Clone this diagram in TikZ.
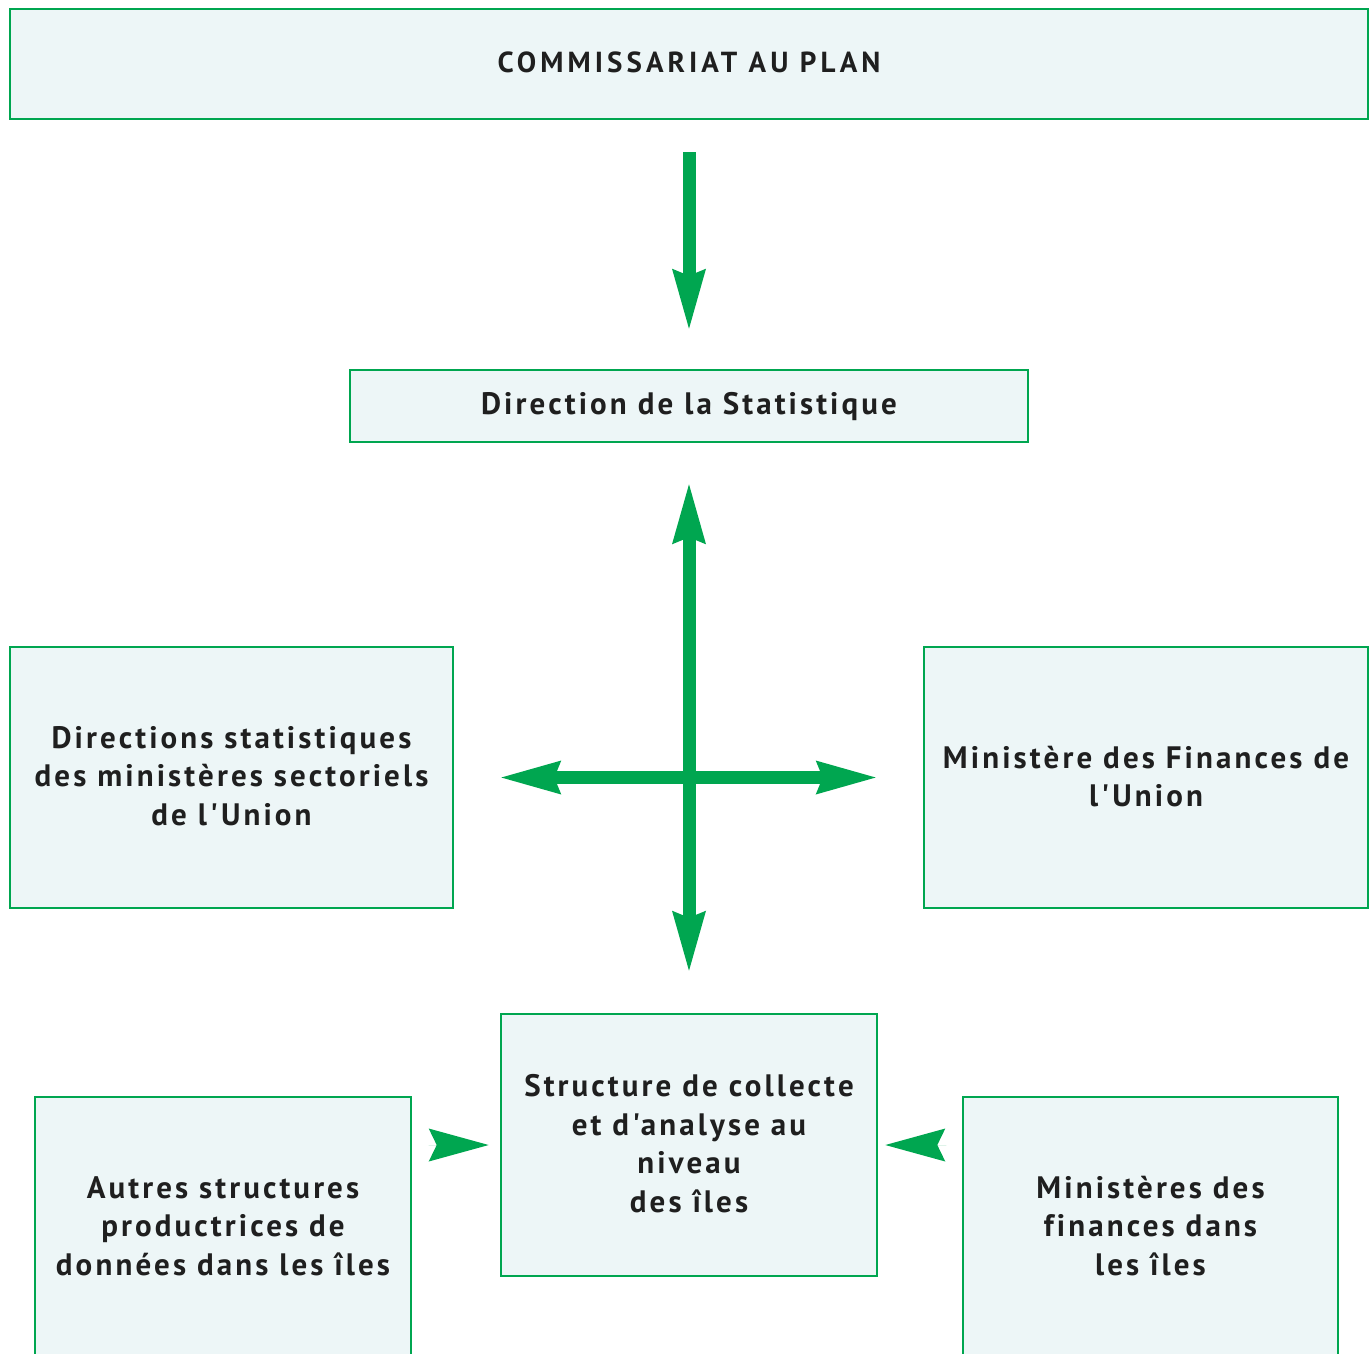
\documentclass[tikz,border=0pt]{standalone}
\usepackage{fontspec}
\setmainfont{PT Sans}[LetterSpace=10, Ligatures={TeXOff,CommonOff}]
\newfontfamily\topfont{PT Sans}[LetterSpace=14, Ligatures={TeXOff,CommonOff}]
\usetikzlibrary{arrows.meta}
\definecolor{gr}{HTML}{00A650}
\definecolor{bx}{HTML}{EDF6F7}
\tikzset{
  box/.style={draw=gr, line width=2.6pt, fill=bx, inner sep=0pt},
  lbl/.style={font=\fontsize{31}{38.5}\selectfont\bfseries, text=black!88, align=center},
  toplbl/.style={font=\topfont\fontsize{29}{38.5}\selectfont\bfseries, text=black!88, align=center},
  conn/.style={draw=gr, line width=13pt, -{Stealth[length=60pt,width=34pt,inset=7pt,line width=0pt]}},
  conn2/.style={draw=gr, line width=13pt, {Stealth[length=60pt,width=34pt,inset=7pt,line width=0pt]}-{Stealth[length=60pt,width=34pt,inset=7pt,line width=0pt]}},
  headonly/.style={draw=gr, line width=0.01pt, -{Stealth[length=60pt,width=33pt,inset=8pt,line width=0pt]}}
}
\begin{document}
\begin{tikzpicture}[x=1pt,y=-1pt]
\clip (0,0) rectangle (1370,1353);
\fill[white] (0,0) rectangle (1370,1353);
\node[box, minimum width=1358pt, minimum height=110pt] (top) at (689,64) {};
\node[toplbl] (topt) at (689,62) {COMMISSARIAT AU PLAN};
\node[box, minimum width=678pt, minimum height=72pt] (dir) at (689,406) {};
\node[lbl] (dirt) at (689,406.5) {Direction de la Statistique};
\node[box, minimum width=443pt, minimum height=261pt] (lft) at (231.5,777.5) {};
\node[lbl] (lftt) at (231.5,776) {Directions statistiques\\des ministères sectoriels\\de l'Union};
\node[box, minimum width=444pt, minimum height=261pt] (rgt) at (1146,777.5) {};
\node[lbl] (rgtt) at (1146,776.5) {Ministère des Finances de\\l'Union};
\node[box, minimum width=376pt, minimum height=262pt] (ctr) at (689,1145) {};
\node[lbl] (ctrt) at (689,1143.5) {Structure de collecte\\et d'analyse au\\niveau\\des îles};
\node[box, minimum width=376pt, minimum height=300pt] (bl) at (223,1247) {};
\node[lbl] (blt) at (223,1226) {Autres structures\\productrices de\\données dans les îles};
\node[box, minimum width=375pt, minimum height=300pt] (br) at (1150.5,1247) {};
\node[lbl] (brt) at (1150.5,1226) {Ministères des\\finances dans\\les îles};
\draw[conn] ([yshift=-32pt]top.south) -- ([yshift=40pt]dir.north);
\draw[conn2] ([yshift=-41pt]dir.south) -- ([yshift=42pt]ctr.north);
\draw[conn2] ([xshift=47pt]lft.east) -- ([xshift=-47pt]rgt.west);
\draw[headonly] ([xshift=16.4pt]bl.east |- ctr.west) -- ([xshift=-11pt]ctr.west);
\draw[headonly] ([xshift=-15.4pt]br.west |- ctr.east) -- ([xshift=7pt]ctr.east);
\end{tikzpicture}
\end{document}
